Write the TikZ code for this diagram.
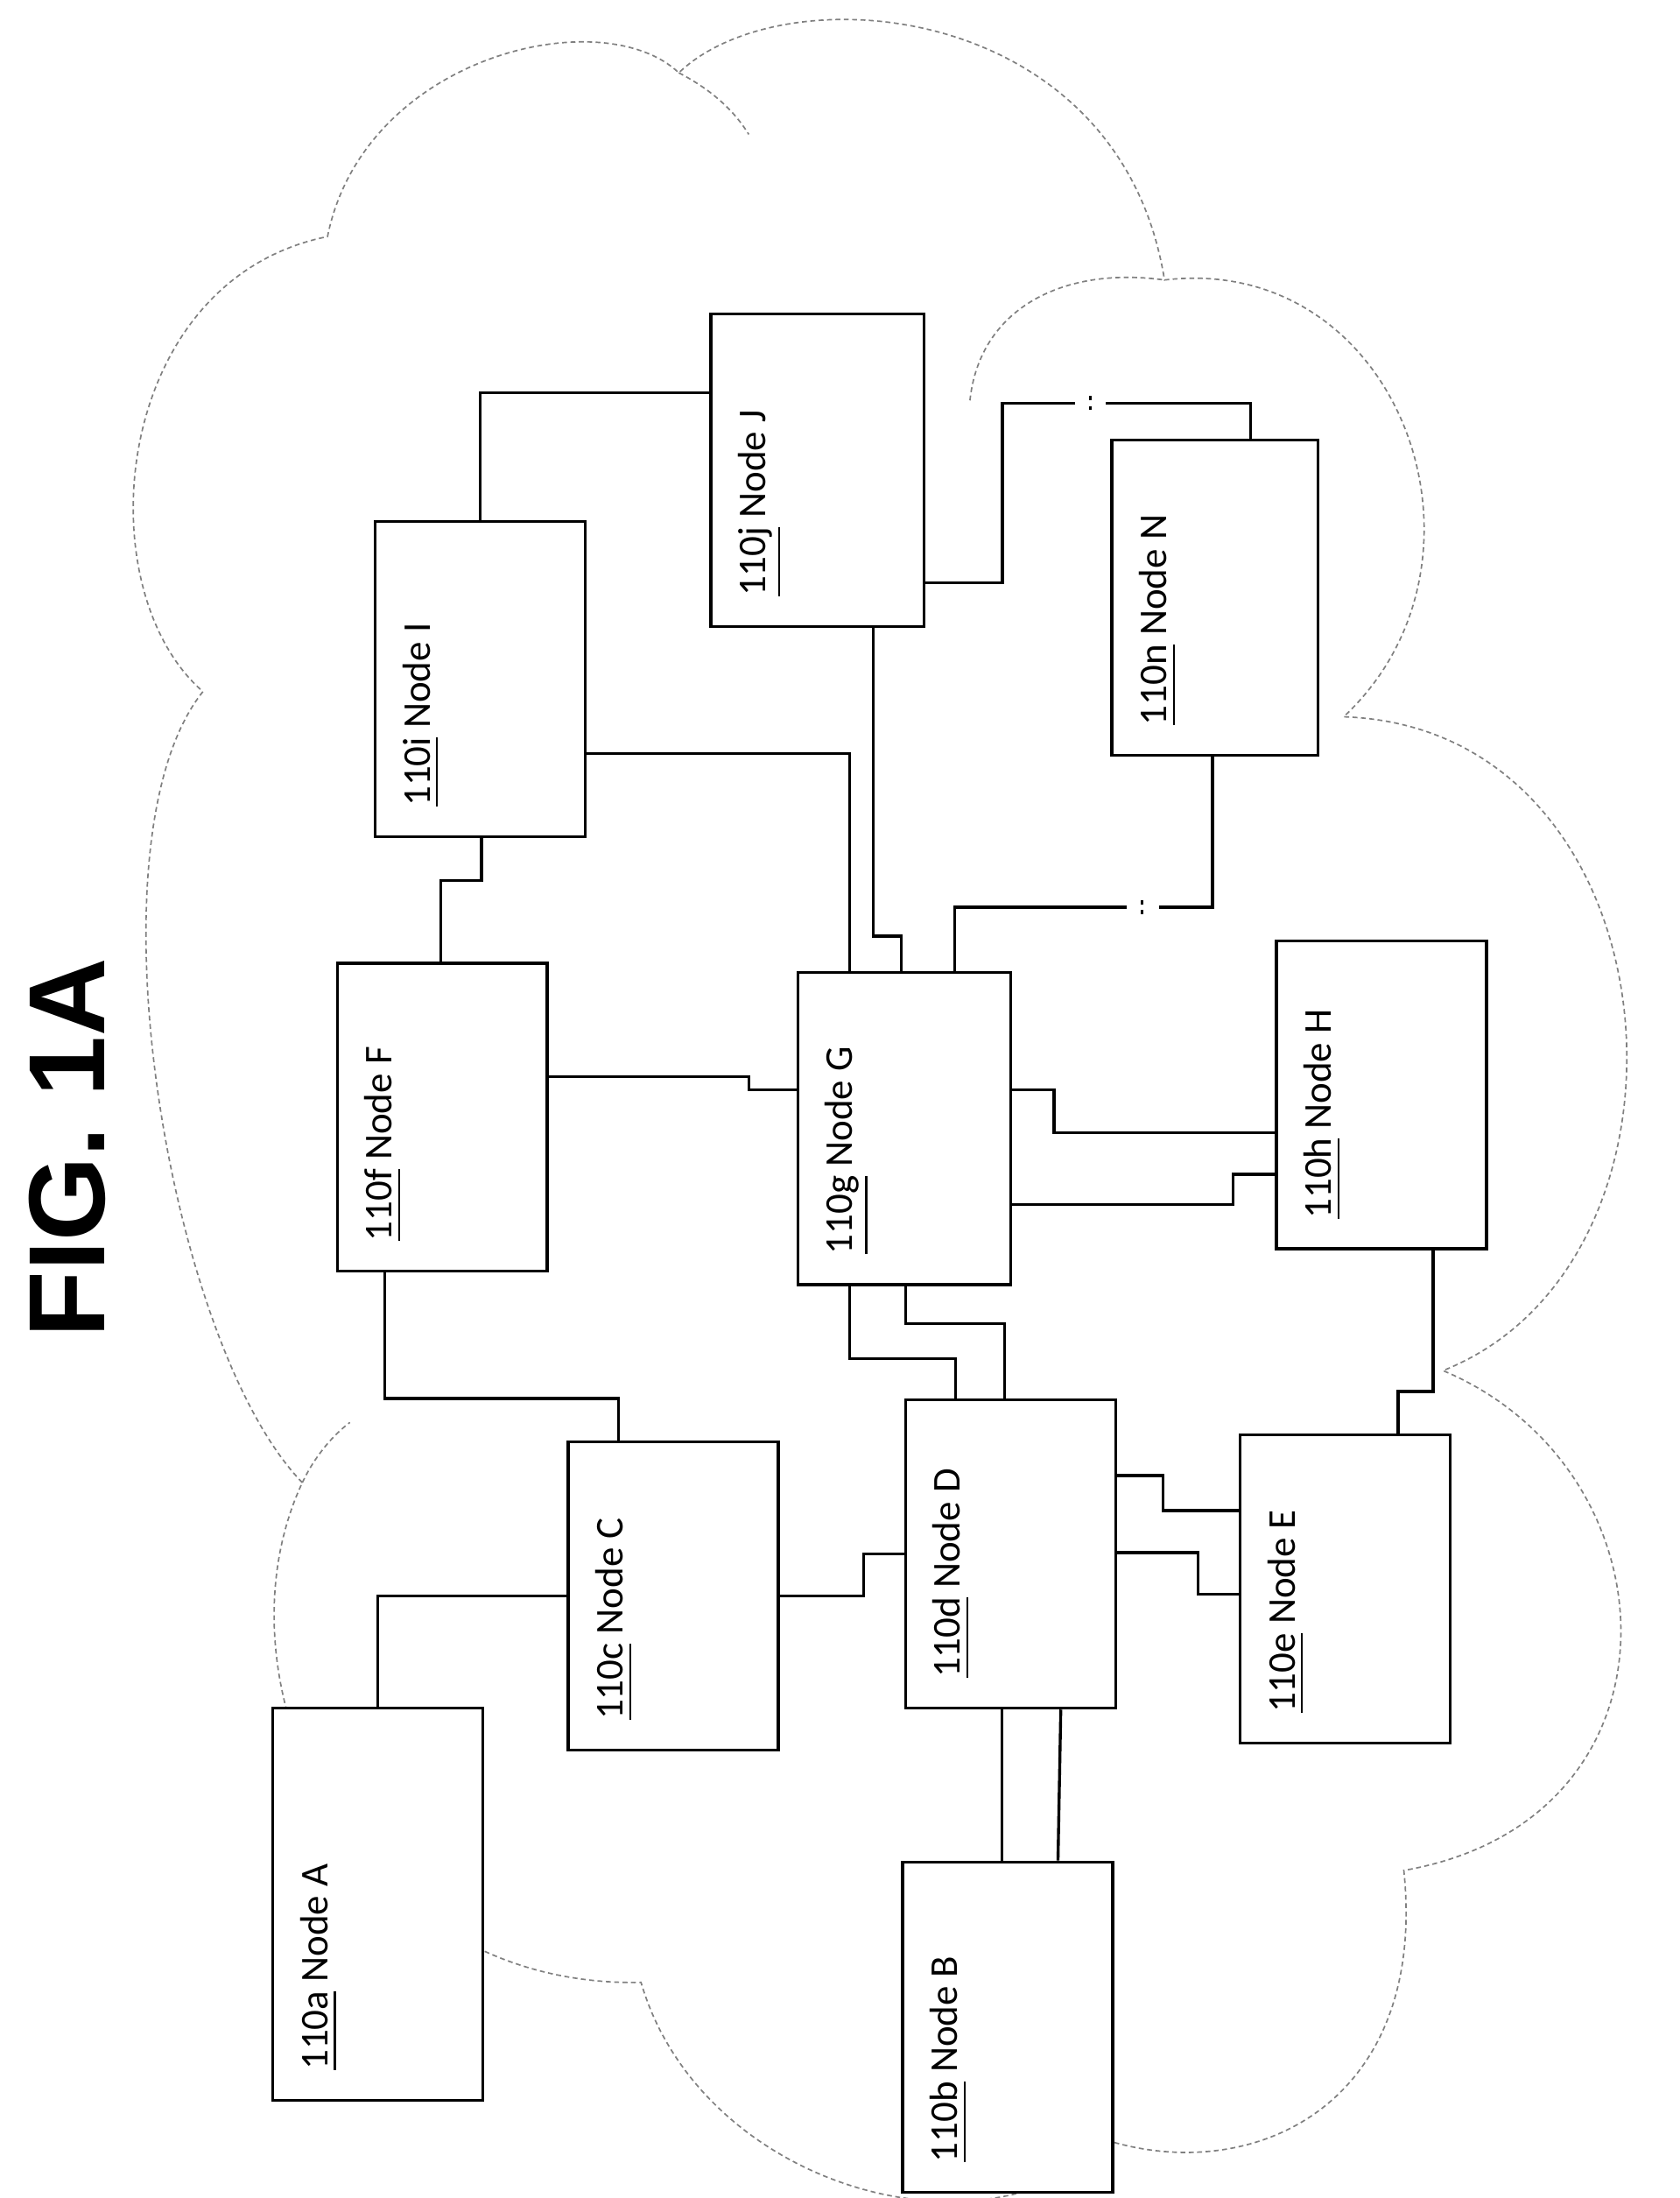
\documentclass[tikz,border=0pt]{standalone}
\usepackage{fontspec}
\setmainfont{Carlito}
\newfontfamily\titlefont{Liberation Sans}
\usetikzlibrary{calc, positioning}

\tikzset{
    box/.style={draw, fill=white, line width=0.6pt, minimum width=1.5cm, minimum height=2.2cm, inner sep=0},
    lbl/.style={rotate=90, anchor=north west, inner sep=0, font=\fontsize{8}{9}\selectfont},
    link/.style={line width=0.6pt},
    cloudline/.style={line width=0.3pt, gray, dash pattern=on 1pt off 0.7pt}
}

\begin{document}
\begin{tikzpicture}[x=0.01cm, y=-0.01cm]
\useasboundingbox (0,0) rectangle (1200,1570);

% Cloud
\draw[cloudline] (216,1059)
    .. controls (120,960) and (60,600) .. (145,494)
    .. controls (60,420) and (80,200) .. (234,169)
    .. controls (260,40) and (430,0) .. (485,52)
    .. controls (560,-20) and (800,0) .. (832,200)
    .. controls (1000,180) and (1080,400) .. (960,512)
    .. controls (1200,520) and (1230,900) .. (1031,979)
    .. controls (1200,1050) and (1210,1300) .. (1003,1336)
    .. controls (1020,1500) and (900,1560) .. (795,1530)
    .. controls (700,1620) and (500,1560) .. (458,1416)
    .. controls (250,1420) and (150,1200) .. cycle;
\draw[cloudline] (485,52) .. controls (510,65) and (525,80) .. (535,96);
\draw[cloudline] (693,286) .. controls (700,220) and (760,190) .. (832,200);
\draw[cloudline] (216,1059) .. controls (225,1040) and (238,1025) .. (250,1016);

% Title
\node[rotate=90, font=\titlefont\bfseries\fontsize{22}{24}\selectfont] (fig) at (48,820) {FIG. 1A};
\node[rotate=90, font=\fontsize{8}{9}\selectfont] (net) at (555,380) {\underline{100}};

% Nodes
\node[box, minimum height=2.8cm] (A) at (270,1360) {};
\node[box, minimum height=2.36cm] (B) at (720,1448) {};
\node[box] (C) at (481,1140) {};
\node[box] (D) at (722,1110) {};
\node[box] (E) at (961,1135) {};
\node[box] (F) at (316,798) {};
\node[box, minimum width=1.52cm, minimum height=2.23cm] (G) at (646,806) {};
\node[box] (H) at (987,782) {};
\node[box, minimum height=2.25cm] (I) at (343,485) {};
\node[box, minimum width=1.52cm, minimum height=2.23cm] (J) at (584,336) {};
\node[box, minimum width=1.47cm, minimum height=2.25cm] (N) at (868,427) {};

\foreach \n/\t in {A/a, B/b, C/c, D/d, E/e, F/f, G/g, H/h, I/i, J/j, N/n}
    \node[lbl] (\n-txt) at ($(\n.south west)+(20,-22)$) {\underline{110\t} Node \n};

% Links
\draw[link] (A.north) |- (C.west);
\draw[link] (C.east) -- ++(60,0) |- (D.west);
\draw[link] ($(C.north west)+(37,0)$) -- ++(0,-30) -| ($(F.south west)+(35,0)$);
\draw[link] ($(D.south west)+(70,0)$) -- ($(B.north west)+(72,0)$);
\draw[link] ($(D.south west)+(112,0)$) -- ($(B.north west)+(112,0)$);
\draw[link] ($(D.north east)+(0,55)$) -- ++(33,0) |- ($(E.north west)+(0,55)$);
\draw[link] ($(D.north east)+(0,110)$) -- ++(58,0) |- ($(E.north west)+(0,115)$);
\draw[link] ($(G.south west)+(38,0)$) -- ++(0,52) -| ($(D.north west)+(37,0)$);
\draw[link] ($(G.south west)+(78,0)$) -- ++(0,27) -| ($(D.north west)+(72,0)$);
\draw[link] ($(E.north west)+(114,0)$) -- ++(0,-30) -| ($(H.south west)+(113,0)$);
\draw[link] ($(F.north east)+(0,82)$) -- ++(143,0) |- ($(G.north west)+(0,85)$);
\draw[link] ($(F.north west)+(75,0)$) -- ++(0,-58) -| ($(I.south west)+(77,0)$);
\draw[link] ($(G.north east)+(0,85)$) -- ++(30,0) |- ($(H.north west)+(0,138)$);
\draw[link] ($(G.north east)+(0,167)$) -- ++(158,0) |- ($(H.north west)+(0,168)$);
\draw[link] ($(I.north east)+(0,167)$) -| ($(G.north west)+(38,0)$);
\draw[link] ($(J.south west)+(117,0)$) -- ++(0,220) -| ($(G.north west)+(75,0)$);
\draw[link] (I.north) |- ($(J.north west)+(0,57)$);

% Links with a break
\coordinate (gn1) at (805,648);
\coordinate (gn2) at (828,648);
\draw[link] ($(G.north west)+(113,0)$) |- (gn1);
\draw[link] (gn2) -| ($(N.south west)+(73,0)$);
\draw[line width=0.5pt] (816,643) -- (816,646) (816,650) -- (816,653);

\coordinate (jn1) at (768,288);
\coordinate (jn2) at (790,288);
\draw[link] ($(J.north east)+(0,193)$) -- ++(55,0) |- (jn1);
\draw[link] (jn2) -| ($(N.north west)+(100,0)$);
\draw[line width=0.5pt] (779,283) -- (779,286) (779,290) -- (779,293);
\end{tikzpicture}
\end{document}
